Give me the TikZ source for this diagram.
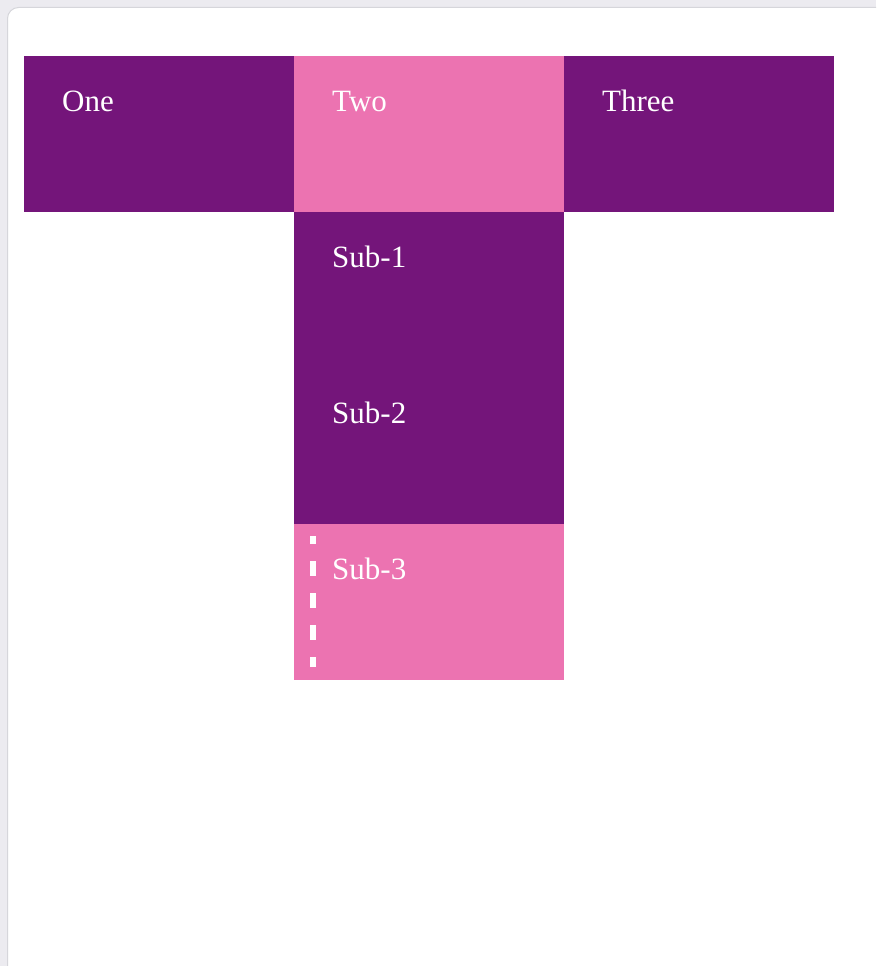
\documentclass[tikz,border=0pt]{standalone}
\usepackage{fontspec}
\setmainfont{Liberation Serif}
\definecolor{tpurple}{HTML}{74157A}
\definecolor{tpink}{HTML}{EC73B1}
\definecolor{pagegray}{HTML}{ECEBF0}
\definecolor{edgegray}{HTML}{D6D6DB}
\tikzset{
  cell/.style={anchor=north west, inner sep=0pt, outer sep=0pt, minimum width=270pt, minimum height=156pt},
  purplecell/.style={cell, fill=tpurple},
  pinkcell/.style={cell, fill=tpink},
  celltext/.style={anchor=base west, inner sep=0pt, text=white, font=\fontsize{31}{31}\selectfont},
  marker/.style={draw=white, line width=6pt, dash pattern=on 15pt off 17pt, dash phase=7pt}
}
\begin{document}
\begin{tikzpicture}[x=1pt,y=-1pt]
\useasboundingbox (0,0) rectangle (876,966);
\clip (0,0) rectangle (876,966);
\fill[pagegray] (0,0) rectangle (876,966);
\draw[edgegray, fill=white, line width=1pt, rounded corners=11pt] (7.5,7.5) rectangle (900,1000);
% top row
\node[purplecell] (one) at (24,56) {};
\node[pinkcell] (two) at (294,56) {};
\node[purplecell] (three) at (564,56) {};
% sub column
\node[purplecell] (sub1) at (294,212) {};
\node[purplecell] (sub2) at (294,368) {};
\node[pinkcell] (sub3) at (294,524) {};
% labels
\node[celltext] (tone) at ([shift={(38,55)}]one.north west) {One};
\node[celltext] (ttwo) at ([shift={(38,55)}]two.north west) {Two};
\node[celltext] (tthree) at ([shift={(38,55)}]three.north west) {Three};
\node[celltext] (tsub1) at ([shift={(38,55)}]sub1.north west) {Sub-1};
\node[celltext] (tsub2) at ([shift={(38,55)}]sub2.north west) {Sub-2};
\node[celltext] (tsub3) at ([shift={(38,55)}]sub3.north west) {Sub-3};
% dashed marker
\coordinate (mtop) at ([shift={(19,12)}]sub3.north west);
\coordinate (mbot) at ([shift={(19,143)}]sub3.north west);
\draw[marker] (mtop) -- (mbot);
\end{tikzpicture}
\end{document}
